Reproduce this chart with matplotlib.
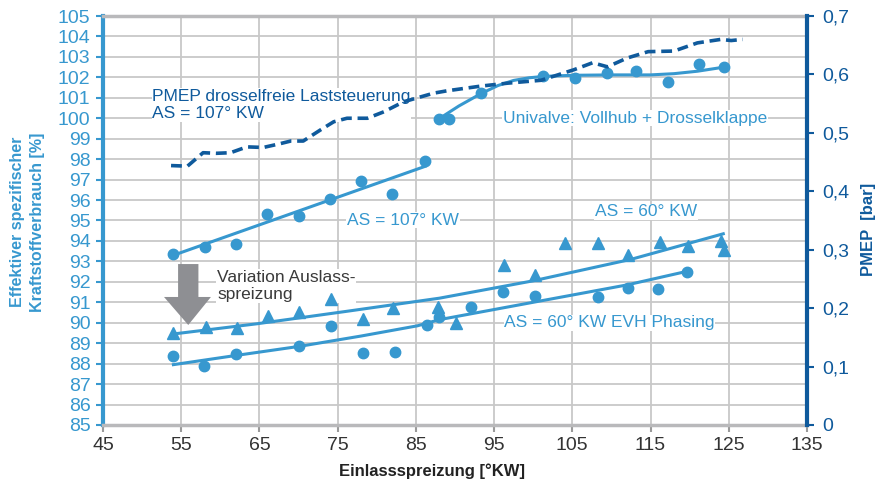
import matplotlib

matplotlib.use("Agg")
import matplotlib.pyplot as plt
from matplotlib.patches import Polygon
from matplotlib.ticker import FuncFormatter

LIGHT = "#3798cf"
DARK = "#0f5a9c"
GRID = "#c8c8c8"
ARROW = "#8e8f93"

# AS = 107 deg KW (circles + fit)
as107_x = [54, 58, 62, 66, 70, 74, 78, 82, 86.2]
as107_y = [93.35, 93.7, 93.85, 95.3, 95.2, 96.05, 96.95, 96.3, 97.9]
as107_fit_x = [54, 86.2]
as107_fit_y = [93.3, 97.65]

# Univalve: Vollhub + Drosselklappe
uni_x = [87.9, 89.2, 93.3, 101.3, 105.3, 109.4, 113.2, 117.2, 121.2, 124.4]
uni_y = [99.96, 99.98, 101.23, 102.07, 101.96, 102.2, 102.3, 101.77, 102.65, 102.5]
uni_fit_x = [87.9, 90.5, 93.3, 95.5, 97.5, 99.5, 101.5, 105, 110, 115, 118, 121, 124.4]
uni_fit_y = [99.96, 100.6, 101.2, 101.6, 101.85, 101.98, 102.05, 102.1, 102.12, 102.12, 102.18, 102.3, 102.5]

# AS = 60 deg KW (triangles + fit)
as60_x = [54, 58.2, 62.1, 66.1, 70.1, 74.2, 78.2, 82.1, 87.8, 90.1, 96.3, 100.2,
          104.1, 108.3, 112.1, 116.2, 119.8, 124, 124.4]
as60_y = [89.5, 89.8, 89.74, 90.33, 90.52, 91.16, 90.18, 90.72, 90.77, 89.98, 92.82,
          92.33, 93.9, 93.9, 93.3, 93.95, 93.75, 94.0, 93.56]
as60_fit_x = [54, 64.7, 76, 88, 100, 112.5, 124.3]
as60_fit_y = [89.45, 89.95, 90.55, 91.2, 92.05, 93.1, 94.35]

# AS = 60 deg KW EVH Phasing (circles + fit)
evh_x = [54, 57.9, 62, 70.1, 74.2, 78.3, 82.3, 86.4, 87.9, 92.1, 96.2, 100.2,
         108.3, 112.1, 115.9, 119.6]
evh_y = [88.37, 87.9, 88.47, 88.86, 89.84, 88.5, 88.57, 89.89, 90.28, 90.77, 91.5,
         91.31, 91.26, 91.7, 91.65, 92.48]
evh_fit_x = [54, 62, 70.2, 78, 85.2, 88, 100, 112, 119.5]
evh_fit_y = [87.95, 88.4, 88.85, 89.35, 89.85, 90.15, 91.0, 91.85, 92.5]

# PMEP drosselfreie Laststeuerung [bar], right axis
pmep_x = [53.7, 55.8, 57.8, 59.5, 61.3, 63.4, 65.5, 67.5, 69, 70.6, 72.8, 74.5, 76.2,
          78.8, 80.9, 83.4, 85.2, 87.3, 89, 93.3, 96.7, 101, 105.2, 107.6, 109.5,
          112, 114.7, 118, 121, 124, 125.3, 126.8]
pmep_y = [0.444, 0.443, 0.466, 0.465, 0.466, 0.476, 0.475, 0.481, 0.486, 0.486, 0.505,
          0.519, 0.525, 0.525, 0.536, 0.553, 0.56, 0.568, 0.572, 0.58, 0.585, 0.59,
          0.608, 0.62, 0.613, 0.628, 0.639, 0.64, 0.654, 0.66, 0.658, 0.66]

x_ticks = list(range(45, 136, 10))
y_ticks = list(range(85, 106))
pmep_ticks = [0, 0.1, 0.2, 0.3, 0.4, 0.5, 0.6, 0.7]

plt.rcParams["font.family"] = ["Liberation Sans", "DejaVu Sans"]
NARROW = ["Liberation Sans Narrow", "Liberation Sans", "DejaVu Sans"]

fig = plt.figure(figsize=(8.78, 4.82), dpi=100)
ax = fig.add_axes([0.1173, 0.1183, 0.8018, 0.8485])
ax2 = ax.twinx()

ax.set_xlim(45, 135)
ax.set_ylim(85, 105)
ax2.set_ylim(0, 0.7)

ax.set_axisbelow(True)
ax.grid(True, color=GRID, linewidth=1.3, zorder=0)
ax.set_xticks(x_ticks)
ax.set_yticks(y_ticks)
ax2.set_yticks(pmep_ticks)
ax2.yaxis.set_major_formatter(
    FuncFormatter(lambda v, _: "0" if v == 0 else f"{v:.1f}".replace(".", ","))
)

ax.tick_params(axis="y", colors=LIGHT, labelsize=14, length=5, width=1.5, pad=4)
ax.tick_params(axis="x", colors="#9a9a9a", labelcolor="#333333", labelsize=14,
               length=5, width=1.5, pad=4)
ax2.tick_params(axis="y", colors=DARK, labelsize=14, length=5, width=1.5, pad=6)

for side in ("top", "bottom"):
    ax.spines[side].set_color("#b9b9bb")
    ax.spines[side].set_linewidth(2.5)
    ax2.spines[side].set_visible(False)
ax.spines["left"].set_color(LIGHT)
ax.spines["left"].set_linewidth(3)
ax.spines["right"].set_visible(False)
ax2.spines["left"].set_visible(False)
ax2.spines["right"].set_color(DARK)
ax2.spines["right"].set_linewidth(3)

lw = 2.2
ms = 7.5
ax.plot(as107_fit_x, as107_fit_y, color=LIGHT, lw=lw, zorder=2)
ax.plot(as107_x, as107_y, "o", color=LIGHT, ms=ms, zorder=3)
ax.plot(uni_fit_x, uni_fit_y, color=LIGHT, lw=lw, zorder=2)
ax.plot(uni_x, uni_y, "o", color=LIGHT, ms=ms, zorder=3)
ax.plot(as60_fit_x, as60_fit_y, color=LIGHT, lw=lw, zorder=2)
ax.plot(as60_x, as60_y, "^", color=LIGHT, ms=ms + 0.5, zorder=3)
ax.plot(evh_fit_x, evh_fit_y, color=LIGHT, lw=lw, zorder=2)
ax.plot(evh_x, evh_y, "o", color=LIGHT, ms=ms, zorder=3)

ax2.plot(pmep_x, pmep_y, color=DARK, lw=2.6, dashes=(3, 1.6), zorder=2)

box = dict(facecolor="white", edgecolor="none", pad=0.5)
ax.text(51.3, 100.65, "PMEP drosselfreie Laststeuerung\nAS = 107° KW", color=DARK,
        fontsize=12.5, family=NARROW, va="center", ha="left", linespacing=1.15,
        bbox=box, zorder=1)
ax.text(96.1, 100.0, "Univalve: Vollhub + Drosselklappe", color=LIGHT,
        fontsize=12.5, family=NARROW, va="center", bbox=box, zorder=1)
ax.text(76.2, 95.02, "AS = 107° KW", color=LIGHT, fontsize=12.5, family=NARROW,
        va="center", bbox=box, zorder=1)
ax.text(107.9, 95.42, "AS = 60° KW", color=LIGHT, fontsize=12.5, family=NARROW,
        va="center", bbox=box, zorder=1)
ax.text(96.3, 89.99, "AS = 60° KW EVH Phasing", color=LIGHT, fontsize=12.5,
        family=NARROW, va="center", bbox=box, zorder=1)
ax.text(59.6, 91.8, "Variation Auslass-\nspreizung", color="#3a3a3a", fontsize=12.5,
        family=NARROW, va="center", linespacing=1.15, bbox=box, zorder=1)

arrow = Polygon(
    [(54.6, 92.87), (57.2, 92.87), (57.2, 91.26), (58.8, 91.26), (55.9, 89.89),
     (52.8, 91.26), (54.6, 91.26)],
    closed=True, facecolor=ARROW, edgecolor="none", zorder=2,
)
ax.add_patch(arrow)

fig.text(0.4915, 0.022, "Einlassspreizung [°KW]", fontsize=12, fontweight="bold",
         family=NARROW, color="#222222", ha="center", va="center")
fig.text(0.0315, 0.539, "Effektiver spezifischer\nKraftstoffverbrauch [%]",
         fontsize=11.5, fontweight="bold", family=NARROW, color=LIGHT, rotation=90,
         ha="center", va="center", linespacing=1.45)
fig.text(0.989, 0.523, "PMEP  [bar]", fontsize=12, fontweight="bold",
         family=NARROW, color=DARK, rotation=90, ha="center", va="center")

fig.savefig("out.png", dpi=100)
